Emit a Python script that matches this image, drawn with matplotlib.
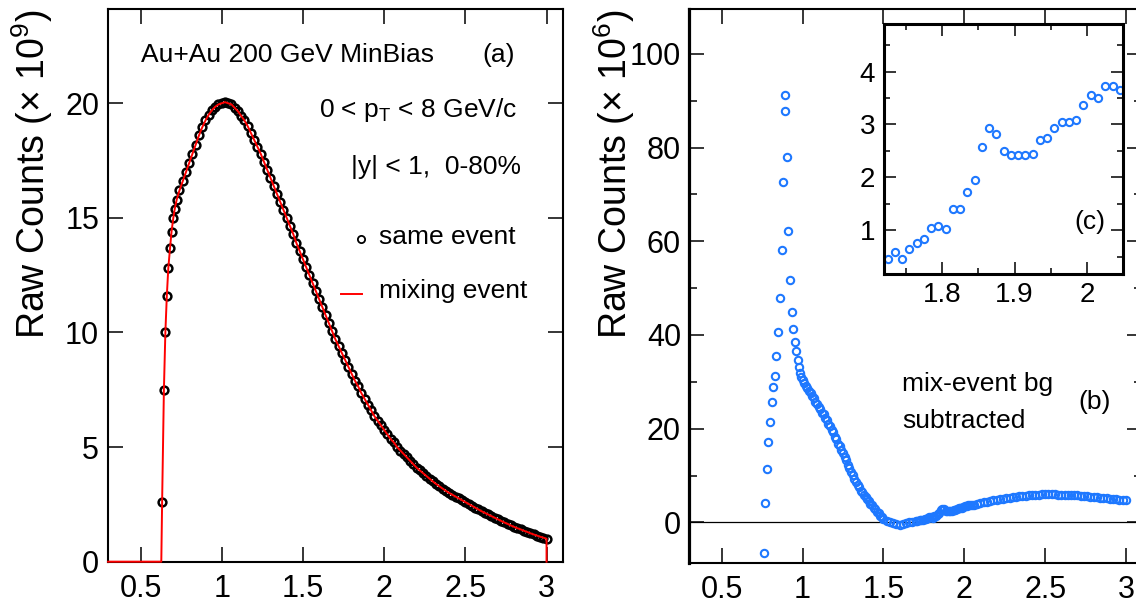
import matplotlib.pyplot as plt
from matplotlib.ticker import MultipleLocator, FormatStrFormatter

plt.rcParams['font.family'] = ['Liberation Sans', 'DejaVu Sans']
plt.rcParams['mathtext.default'] = 'regular'

# ---- panel (a): same event / mixing event, counts x 1e9 ----
same_mass = [0.633, 0.644, 0.653, 0.662, 0.671, 0.682, 0.691, 0.702, 0.711, 0.723,
             0.74, 0.76, 0.78, 0.80, 0.82, 0.84, 0.86, 0.88, 0.90, 0.92,
             0.94, 0.96, 0.98, 1.00, 1.02, 1.04, 1.06, 1.08, 1.10, 1.12,
             1.14, 1.16, 1.18, 1.20, 1.22, 1.24, 1.26, 1.28, 1.30, 1.32,
             1.34, 1.36, 1.38, 1.40, 1.42, 1.44, 1.46, 1.48, 1.50, 1.52,
             1.54, 1.56, 1.58, 1.60, 1.62, 1.64, 1.66, 1.68, 1.70, 1.72,
             1.74, 1.76, 1.78, 1.80, 1.82, 1.84, 1.86, 1.88, 1.90, 1.92,
             1.94, 1.96, 1.98, 2.00, 2.02, 2.04, 2.06, 2.08, 2.10, 2.12,
             2.14, 2.16, 2.18, 2.20, 2.22, 2.24, 2.26, 2.28, 2.30, 2.32,
             2.34, 2.36, 2.38, 2.40, 2.42, 2.44, 2.46, 2.48, 2.50, 2.52,
             2.54, 2.56, 2.58, 2.60, 2.62, 2.64, 2.66, 2.68, 2.70, 2.72,
             2.74, 2.76, 2.78, 2.80, 2.82, 2.84, 2.86, 2.88, 2.90, 2.92,
             2.94, 2.96, 2.98, 3.00]
same_counts = [2.6, 7.5, 10.0, 11.6, 12.8, 13.7, 14.4, 15.0, 15.4, 15.8,
               16.2, 16.6, 17.0, 17.4, 17.8, 18.2, 18.6, 18.95, 19.25, 19.5,
               19.7, 19.85, 19.95, 20.0, 20.05, 20.0, 19.95, 19.8, 19.65, 19.45,
               19.25, 19.0, 18.7, 18.4, 18.1, 17.8, 17.45, 17.1, 16.75, 16.4,
               16.05, 15.7, 15.35, 15.0, 14.65, 14.3, 13.9, 13.55, 13.2, 12.85,
               12.5, 12.15, 11.8, 11.45, 11.1, 10.75, 10.4, 10.05, 9.7, 9.4,
               9.1, 8.8, 8.5, 8.2, 7.9, 7.65, 7.35, 7.1, 6.85, 6.6,
               6.35, 6.15, 5.95, 5.75, 5.55, 5.35, 5.2, 5.0, 4.85, 4.7,
               4.55, 4.4, 4.25, 4.1, 3.98, 3.86, 3.74, 3.62, 3.5, 3.39,
               3.29, 3.19, 3.09, 3.0, 2.92, 2.84, 2.76, 2.68, 2.6, 2.52,
               2.44, 2.36, 2.28, 2.2, 2.13, 2.06, 1.99, 1.92, 1.85, 1.78,
               1.71, 1.65, 1.58, 1.52, 1.46, 1.41, 1.35, 1.30, 1.24, 1.19,
               1.14, 1.09, 1.05, 1.0]
# mixing-event histogram: empty below threshold, closes at the upper edge
mix_mass = [0.30, 0.628] + same_mass + [3.00]
mix_counts = [0.0, 0.0] + same_counts + [0.0]

# ---- panel (b): mix-event bg subtracted, counts x 1e6 ----
sub_mass = [0.760, 0.768, 0.778, 0.787, 0.798, 0.809, 0.818, 0.829, 0.838, 0.849,
            0.862, 0.871, 0.882, 0.889, 0.891, 0.902, 0.911, 0.920, 0.933, 0.944,
            0.953, 0.960, 0.969, 0.976, 0.984,
            0.99, 1.00, 1.01, 1.02, 1.03, 1.04, 1.05, 1.06, 1.07, 1.08,
            1.09, 1.10, 1.11, 1.12, 1.13, 1.14, 1.15, 1.16, 1.17, 1.18,
            1.19, 1.20, 1.21, 1.22, 1.23, 1.24, 1.25, 1.26, 1.27, 1.28,
            1.29, 1.30, 1.31, 1.32, 1.33, 1.34, 1.35, 1.36, 1.37, 1.38,
            1.39, 1.40, 1.41, 1.42, 1.43, 1.44, 1.45, 1.46, 1.47, 1.48,
            1.49, 1.50, 1.52, 1.54, 1.56, 1.58, 1.60, 1.62, 1.64, 1.66,
            1.68, 1.70, 1.71]
sub_counts = [-6.5, 4.1, 11.4, 17.1, 21.4, 25.6, 28.8, 31.3, 35.6, 40.6,
              47.8, 58.1, 72.7, 87.7, 91.3, 78.0, 62.1, 51.7, 44.9, 41.3,
              38.5, 36.5, 34.7, 33.1, 31.8,
              31.0, 30.4, 29.8, 29.2, 28.6, 28.1, 27.6, 27.0, 26.5, 25.8,
              25.3, 24.6, 24.2, 23.4, 23.1, 22.3, 21.9, 21.1, 20.6, 19.7,
              19.2, 18.2, 17.7, 16.8, 16.3, 15.4, 14.9, 13.9, 13.3, 12.3,
              11.7, 10.7, 10.1, 9.2, 8.7, 7.9, 7.5, 6.8, 6.5, 5.8,
              5.5, 4.9, 4.6, 4.0, 3.7, 3.0, 2.8, 2.2, 2.0, 1.4,
              1.2, 0.7, 0.4, 0.1, -0.2, -0.3, -0.5, -0.3, -0.2, 0.0,
              0.1, 0.3, 0.35]
tail_mass = [2.06, 2.08, 2.10, 2.12, 2.14, 2.16, 2.18, 2.20, 2.22, 2.24,
             2.26, 2.28, 2.30, 2.32, 2.34, 2.36, 2.38, 2.40, 2.42, 2.44,
             2.46, 2.48, 2.50, 2.52, 2.54, 2.56, 2.58, 2.60, 2.62, 2.64,
             2.66, 2.68, 2.70, 2.72, 2.74, 2.76, 2.78, 2.80, 2.82, 2.84,
             2.86, 2.88, 2.90, 2.92, 2.94, 2.96, 2.98, 3.00]
tail_counts = [3.8, 3.95, 4.1, 4.25, 4.4, 4.55, 4.7, 4.85, 4.95, 5.05,
               5.15, 5.3, 5.4, 5.5, 5.55, 5.65, 5.7, 5.8, 5.85, 5.9,
               5.95, 6.0, 6.0, 6.05, 6.0, 6.0, 5.95, 5.95, 5.9, 5.9,
               5.85, 5.8, 5.75, 5.7, 5.65, 5.6, 5.5, 5.45, 5.4, 5.3,
               5.25, 5.15, 5.1, 5.0, 4.9, 4.85, 4.75, 4.7]

# ---- inset (c): zoom of 1.72-2.05 ----
inset_mass = [1.725, 1.735, 1.745, 1.755, 1.765, 1.775, 1.785, 1.795, 1.805, 1.815,
              1.825, 1.835, 1.845, 1.855, 1.865, 1.875, 1.885, 1.895, 1.905, 1.915,
              1.925, 1.935, 1.945, 1.955, 1.965, 1.975, 1.985, 1.995, 2.005, 2.015,
              2.025, 2.035, 2.045]
inset_counts = [0.46, 0.59, 0.46, 0.65, 0.75, 0.84, 1.05, 1.08, 1.02, 1.40,
                1.40, 1.73, 1.95, 2.58, 2.93, 2.81, 2.49, 2.42, 2.42, 2.42,
                2.45, 2.71, 2.74, 2.93, 3.05, 3.05, 3.09, 3.37, 3.56, 3.50,
                3.73, 3.73, 3.65]
inset_err = [0.07] * 33

blue = '#1e78ff'

fig = plt.figure(figsize=(11.36, 6.08), dpi=100)
ax1 = fig.add_axes([0.0951, 0.0762, 0.4003, 0.9085])
ax2 = fig.add_axes([0.6068, 0.0745, 0.3986, 0.9102])
ax3 = fig.add_axes([0.7782, 0.5493, 0.2107, 0.4112])


def frame(ax, lw, size, length, pad_x, pad_y):
    for s in ax.spines.values():
        s.set_linewidth(lw)
    ax.tick_params(which='both', direction='in', top=True, right=True,
                   width=1.1, labelsize=size)
    ax.tick_params(which='major', length=length)
    ax.tick_params(which='minor', length=length * 0.5)
    ax.tick_params(axis='x', pad=pad_x)
    ax.tick_params(axis='y', pad=pad_y)
    ax.xaxis.set_major_formatter(FormatStrFormatter('%g'))
    ax.yaxis.set_major_formatter(FormatStrFormatter('%g'))


# panel (a)
ax1.plot(same_mass, same_counts, 'o', ms=5.6, mfc='none', mec='black', mew=1.8, zorder=2)
ax1.plot(mix_mass, mix_counts, '-', color='red', lw=1.4, zorder=3, clip_on=False)
ax1.set_xlim(0.3, 3.1)
ax1.set_ylim(0, 24.1)
ax1.xaxis.set_major_locator(MultipleLocator(0.5))
ax1.yaxis.set_major_locator(MultipleLocator(5))
frame(ax1, 1.5, 22, 11, 9, 6.5)

ax1.text(0.072, 0.918, 'Au+Au 200 GeV MinBias', transform=ax1.transAxes,
         fontsize=19, ha='left', va='center')
ax1.text(0.858, 0.918, '(a)', transform=ax1.transAxes, fontsize=19, ha='center', va='center')
ax1.text(0.90, 0.818, '0 < p$_T$ < 8 GeV/c', transform=ax1.transAxes,
         fontsize=19, ha='right', va='center')
ax1.text(0.908, 0.714, '|y| < 1,  0-80%', transform=ax1.transAxes,
         fontsize=19, ha='right', va='center')
ax1.plot([0.556], [0.584], 'o', ms=5.2, mfc='none', mec='black', mew=1.3,
         transform=ax1.transAxes)
ax1.text(0.5965, 0.588, 'same event', transform=ax1.transAxes, fontsize=19,
         ha='left', va='center')
ax1.plot([0.513, 0.558], [0.4846, 0.4846], color='red', lw=1.4, transform=ax1.transAxes)
ax1.text(0.5965, 0.49, 'mixing event', transform=ax1.transAxes, fontsize=19,
         ha='left', va='center')

# panel (b)
ax2.axhline(0, color='black', lw=0.9, zorder=1)
ax2.plot(sub_mass + inset_mass + tail_mass, sub_counts + inset_counts + tail_counts,
         'o', ms=5.3, mfc='none', mec=blue, mew=1.5, zorder=2)
ax2.set_xlim(0.3, 3.1)
ax2.set_ylim(-8.6, 109.5)
ax2.xaxis.set_major_locator(MultipleLocator(0.5))
ax2.yaxis.set_major_locator(MultipleLocator(20))
ax2.yaxis.set_minor_locator(MultipleLocator(10))
frame(ax2, 1.5, 22, 11, 9, 6)
ax2.spines['left'].set_linewidth(2.3)

ax2.text(0.470, 0.3236, 'mix-event bg', transform=ax2.transAxes, fontsize=19,
         ha='left', va='center')
ax2.text(0.470, 0.2568, 'subtracted', transform=ax2.transAxes, fontsize=19,
         ha='left', va='center')
ax2.text(0.894, 0.290, '(b)', transform=ax2.transAxes, fontsize=19, ha='center', va='center')

# inset (c)
ax3.errorbar(inset_mass, inset_counts, yerr=inset_err, fmt='o', ms=5.2, mfc='white',
             mec=blue, mew=1.5, ecolor=blue, elinewidth=1.2, capsize=0)
ax3.set_xlim(1.72, 2.05)
ax3.set_ylim(0.17, 4.9)
ax3.xaxis.set_major_locator(MultipleLocator(0.1))
ax3.xaxis.set_minor_locator(MultipleLocator(0.05))
ax3.yaxis.set_major_locator(MultipleLocator(1))
ax3.yaxis.set_minor_locator(MultipleLocator(0.5))
frame(ax3, 2.2, 20, 8.5, 6, 6.5)
ax3.text(0.861, 0.209, '(c)', transform=ax3.transAxes, fontsize=19, ha='center', va='center')

# y titles sit at the top of each frame
fig.text(32 / 1136, 1 - 10 / 608, 'Raw Counts (\u00d7 10$^{9}$)', fontsize=27,
         rotation=90, ha='center', va='top')
fig.text(614 / 1136, 1 - 10 / 608, 'Raw Counts (\u00d7 10$^{6}$)', fontsize=27,
         rotation=90, ha='center', va='top')

fig.savefig('out.png', dpi=100)
